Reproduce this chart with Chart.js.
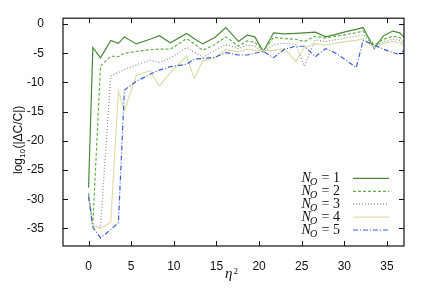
<!DOCTYPE html>
<html>
<head>
<meta charset="utf-8">
<script src="https://cdn.jsdelivr.net/npm/chart.js@4.4.1/dist/chart.umd.min.js"></script>
<style>
html, body { margin: 0; padding: 0; background: #fff; }
</style>
</head>
<body>
<canvas id="chart" width="428" height="298"></canvas>
<script>
// eta^2 sample points (shared by all curves)
const etaSq = [0, 0.5, 1.4, 2.6, 3.5, 4.2, 5.6, 7.2, 8.3, 9.6, 11.5, 12.4, 13.4, 14.8, 16.1, 17.6, 18.6, 19.5, 20.5, 21.7,
               23.0, 24.3, 25.3, 26.6, 27.8, 28.9, 30.2, 31.4, 32.2, 33.5, 34.6, 35.7, 36.5, 37.5];

// log10(|dC/C|) for N_O = 1..5
const nO1 = [-28, -4.0, -5.8, -2.8, -3.3, -2.2, -3.4, -2.6, -2.0, -3.2, -1.6, -2.5, -3.4, -2.3, -0.6, -3.0, -1.9, -2.2, -4.7, -1.5,
             -1.7, -1.6, -1.5, -1.4, -2.2, -1.8, -1.3, -0.9, -0.6, -4.2, -2.0, -1.2, -1.5, -3.0];
const nO2 = [-29, -34.3, -7.2, -5.5, -5.6, -5.0, -4.7, -4.4, -4.3, -4.3, -2.5, -3.4, -4.5, -3.5, -2.2, -3.8, -2.9, -3.1, -4.6, -2.3,
             -2.5, -2.6, -3.0, -2.1, -2.4, -2.1, -1.8, -1.5, -1.2, -3.6, -2.6, -2.1, -2.3, -3.5];
const nO3 = [-29.5, -34.5, -34.8, -8.9, -8.3, -7.8, -7.0, -6.2, -6.6, -5.8, -4.0, -4.8, -5.7, -4.5, -3.5, -4.2, -3.6, -3.8, -4.8, -3.5,
             -3.3, -3.5, -7.2, -2.7, -3.0, -2.7, -2.4, -2.1, -1.8, -3.9, -3.0, -2.6, -2.8, -4.2];
const nO4 = [-29.5, -34.5, -35.0, -34.0, -11.4, -14.8, -8.8, -8.0, -10.6, -8.3, -5.5, -9.3, -6.3, -5.8, -4.4, -4.8, -4.3, -4.5, -4.6, -4.5,
             -4.2, -6.4, -4.0, -3.4, -3.6, -3.3, -3.0, -2.8, -2.5, -4.0, -3.3, -3.0, -3.2, -4.5];
const nO5 = [-29.5, -34.8, -36.6, -35.2, -34.0, -11.3, -9.8, -8.6, -7.9, -7.3, -6.9, -6.0, -5.9, -5.7, -4.9, -5.3, -5.3, -5.0, -4.7, -5.75,
             -4.3, -3.8, -3.8, -5.6, -4.2, -4.9, -6.2, -7.45, -2.8, -3.6, -4.3, -4.9, -5.2, -3.8];

const seriesNames = ['1', '2', '3', '4', '5'];
const xTicks = [0, 5, 10, 15, 20, 25, 30, 35];
const yTicks = [-35, -30, -25, -20, -15, -10, -5, 0];

const allSeries = [nO1, nO2, nO3, nO4, nO5];
const colors = ['#4a8838', '#62b04a', '#8e8e7c', '#e0dbae', '#3f5fcf'];
const dashes = [[], [3, 2], [1, 2], [], [5, 2, 1, 2]];

const sansFont = '"Liberation Sans", Arial, sans-serif';
const serifFont = '"Liberation Serif", "DejaVu Serif", serif';

// frame, inward ticks, axis titles and legend (gnuplot look)
const gnuplotDecor = {
    id: 'gnuplotDecor',
    afterDraw(chart) {
        const ctx = chart.ctx;
        const area = chart.chartArea;
        const xs = chart.scales.x;
        const ys = chart.scales.y;
        const tl = 5;

        ctx.save();
        ctx.strokeStyle = '#111';
        ctx.lineWidth = 1.2;
        ctx.setLineDash([]);
        ctx.strokeRect(area.left, area.top, area.right - area.left, area.bottom - area.top);

        ctx.lineWidth = 1;
        ctx.beginPath();
        xTicks.forEach(v => {
            const px = Math.round(xs.getPixelForValue(v)) + 0.5;
            ctx.moveTo(px, area.bottom); ctx.lineTo(px, area.bottom - tl);
            ctx.moveTo(px, area.top); ctx.lineTo(px, area.top + tl);
        });
        yTicks.forEach(v => {
            const py = Math.round(ys.getPixelForValue(v)) + 0.5;
            ctx.moveTo(area.left, py); ctx.lineTo(area.left + tl, py);
            ctx.moveTo(area.right, py); ctx.lineTo(area.right - tl, py);
        });
        ctx.stroke();

        // y axis title
        ctx.fillStyle = '#111';
        ctx.save();
        ctx.translate(22, (area.top + area.bottom) / 2 + 8);
        ctx.rotate(-Math.PI / 2);
        ctx.textBaseline = 'alphabetic';
        const p1 = 'log', p2 = '10', p3 = '(|\u0394C/C|)';
        ctx.font = '12px ' + sansFont;
        const w1 = ctx.measureText(p1).width;
        const w3 = ctx.measureText(p3).width;
        ctx.font = '8px ' + sansFont;
        const w2 = ctx.measureText(p2).width;
        let x0 = -(w1 + w2 + w3) / 2;
        ctx.font = '12px ' + sansFont;
        ctx.fillText(p1, x0, 0);
        ctx.font = '8px ' + sansFont;
        ctx.fillText(p2, x0 + w1, 3);
        ctx.font = '12px ' + sansFont;
        ctx.fillText(p3, x0 + w1 + w2 + 0.5, 0);
        ctx.restore();

        // x axis title
        ctx.font = 'italic 15px ' + serifFont;
        ctx.textBaseline = 'alphabetic';
        ctx.fillText('\u03b7', 225, 277.5);
        ctx.font = '9px ' + serifFont;
        ctx.fillText('2', 233.5, 273.5);

        // legend: text right-aligned, line sample on the right
        const textRight = area.right - 64;
        const lineL = area.right - 51;
        const lineR = area.right - 15;
        seriesNames.forEach((name, i) => {
            const y = area.bottom - 16.5 - (seriesNames.length - 1 - i) * 12.9;
            ctx.font = 'italic 14px ' + serifFont;
            const wN = ctx.measureText('N').width;
            ctx.font = 'italic 10px ' + serifFont;
            const wO = ctx.measureText('O').width;
            ctx.font = '14px ' + serifFont;
            const wEq = ctx.measureText(' = ' + name).width;
            let tx = textRight - (wN + wO + wEq);
            ctx.fillStyle = '#111';
            ctx.textBaseline = 'alphabetic';
            ctx.font = 'italic 14px ' + serifFont;
            ctx.fillText('N', tx, y + 4);
            ctx.font = 'italic 10px ' + serifFont;
            ctx.fillText('O', tx + wN - 1, y + 7.5);
            ctx.font = '14px ' + serifFont;
            ctx.fillText(' = ' + name, tx + wN + wO, y + 4);

            ctx.strokeStyle = colors[i];
            ctx.lineWidth = 1.2;
            ctx.setLineDash(dashes[i]);
            ctx.beginPath();
            ctx.moveTo(lineL, y + 0.5);
            ctx.lineTo(lineR, y + 0.5);
            ctx.stroke();
        });
        ctx.restore();
    }
};

const datasets = allSeries.map((vals, i) => ({
    label: 'N_O = ' + seriesNames[i],
    data: etaSq.map((x, j) => ({ x: x, y: vals[j] })),
    borderColor: colors[i],
    backgroundColor: colors[i],
    borderWidth: 1.2,
    borderDash: dashes[i],
    pointRadius: 0,
    tension: 0,
    fill: false,
    order: allSeries.length - i
}));

new Chart(document.getElementById('chart'), {
    type: 'line',
    data: { datasets: datasets },
    options: {
        responsive: false,
        animation: false,
        devicePixelRatio: 1,
        layout: { padding: { top: 18, right: 24, left: 0, bottom: 0 } },
        plugins: { legend: { display: false }, tooltip: { enabled: false } },
        scales: {
            x: {
                type: 'linear',
                min: -3,
                max: 37,
                afterBuildTicks: s => { s.ticks = xTicks.map(v => ({ value: v })); },
                afterFit: s => { s.height = 52; },
                grid: { display: false },
                border: { display: false },
                ticks: {
                    font: { family: sansFont, size: 12 },
                    color: '#111',
                    padding: 5,
                    maxRotation: 0,
                    autoSkip: false
                }
            },
            y: {
                type: 'linear',
                min: -38,
                max: 1,
                afterBuildTicks: s => { s.ticks = yTicks.map(v => ({ value: v })); },
                afterFit: s => { s.width = 63; },
                grid: { display: false },
                border: { display: false },
                ticks: {
                    font: { family: sansFont, size: 12 },
                    color: '#111',
                    padding: 11,
                    autoSkip: false
                }
            }
        }
    },
    plugins: [gnuplotDecor]
});
</script>
</body>
</html>
